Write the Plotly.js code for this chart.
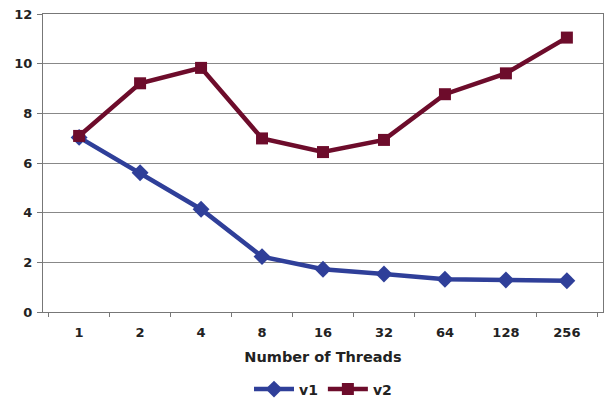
<!DOCTYPE html>
<html><head><meta charset="utf-8">
<script src="https://cdn.plot.ly/plotly-3.0.1.min.js"></script>
<style>html,body{margin:0;padding:0;background:#fff}#chart{width:605px;height:402px}</style>
</head><body><div id="chart"></div>
<script>
const threads = ["1","2","4","8","16","32","64","128","256"];
const v1 = [7.03, 5.61, 4.14, 2.23, 1.72, 1.53, 1.32, 1.29, 1.26];
const v2 = [7.09, 9.21, 9.83, 6.99, 6.44, 6.93, 8.77, 9.61, 11.05];
const fam = "DejaVu Sans, Verdana, sans-serif";
const traces = [
  {x: threads, y: v1, name: "v1", type: "scatter", mode: "lines+markers",
   line: {color: "#2F3F99", width: 4.5}, marker: {symbol: "diamond", size: 13, color: "#2F3F99"}},
  {x: threads, y: v2, name: "v2", type: "scatter", mode: "lines+markers",
   line: {color: "#6D0C2B", width: 4.5}, marker: {symbol: "square", size: 12, color: "#6D0C2B"}}
];
const layout = {
  width: 605, height: 402,
  margin: {l: 43, r: 2, t: 14, b: 90, autoexpand: false},
  paper_bgcolor: "#fff", plot_bgcolor: "#fff",
  font: {family: fam, size: 13, color: "#222"},
  showlegend: true,
  legend: {orientation: "h", x: 0.5, xanchor: "center", y: -0.26, yanchor: "middle",
           font: {family: fam, size: 14, color: "#222", weight: "bold"}, itemwidth: 40},
  xaxis: {type: "category", tickson: "boundaries", ticks: "outside", ticklen: 4, tickcolor: "#777",
          ticklabelstandoff: 8,
          showline: true, linecolor: "#777", linewidth: 1, mirror: true, showgrid: false, zeroline: false,
          tickfont: {family: fam, size: 13, color: "#222", weight: "bold"},
          title: {text: "Number of Threads", standoff: 13, font: {family: fam, size: 14.5, color: "#222", weight: "bold"}}},
  yaxis: {range: [0, 12], dtick: 2, ticks: "outside", ticklen: 5, tickcolor: "#777",
          ticklabelstandoff: 2,
          showline: true, linecolor: "#777", linewidth: 1, mirror: true,
          showgrid: true, gridcolor: "#888", gridwidth: 1, zeroline: false,
          tickfont: {family: fam, size: 13, color: "#222", weight: "bold"}}
};
Plotly.newPlot("chart", traces, layout, {displayModeBar: false, staticPlot: true});
</script></body></html>
